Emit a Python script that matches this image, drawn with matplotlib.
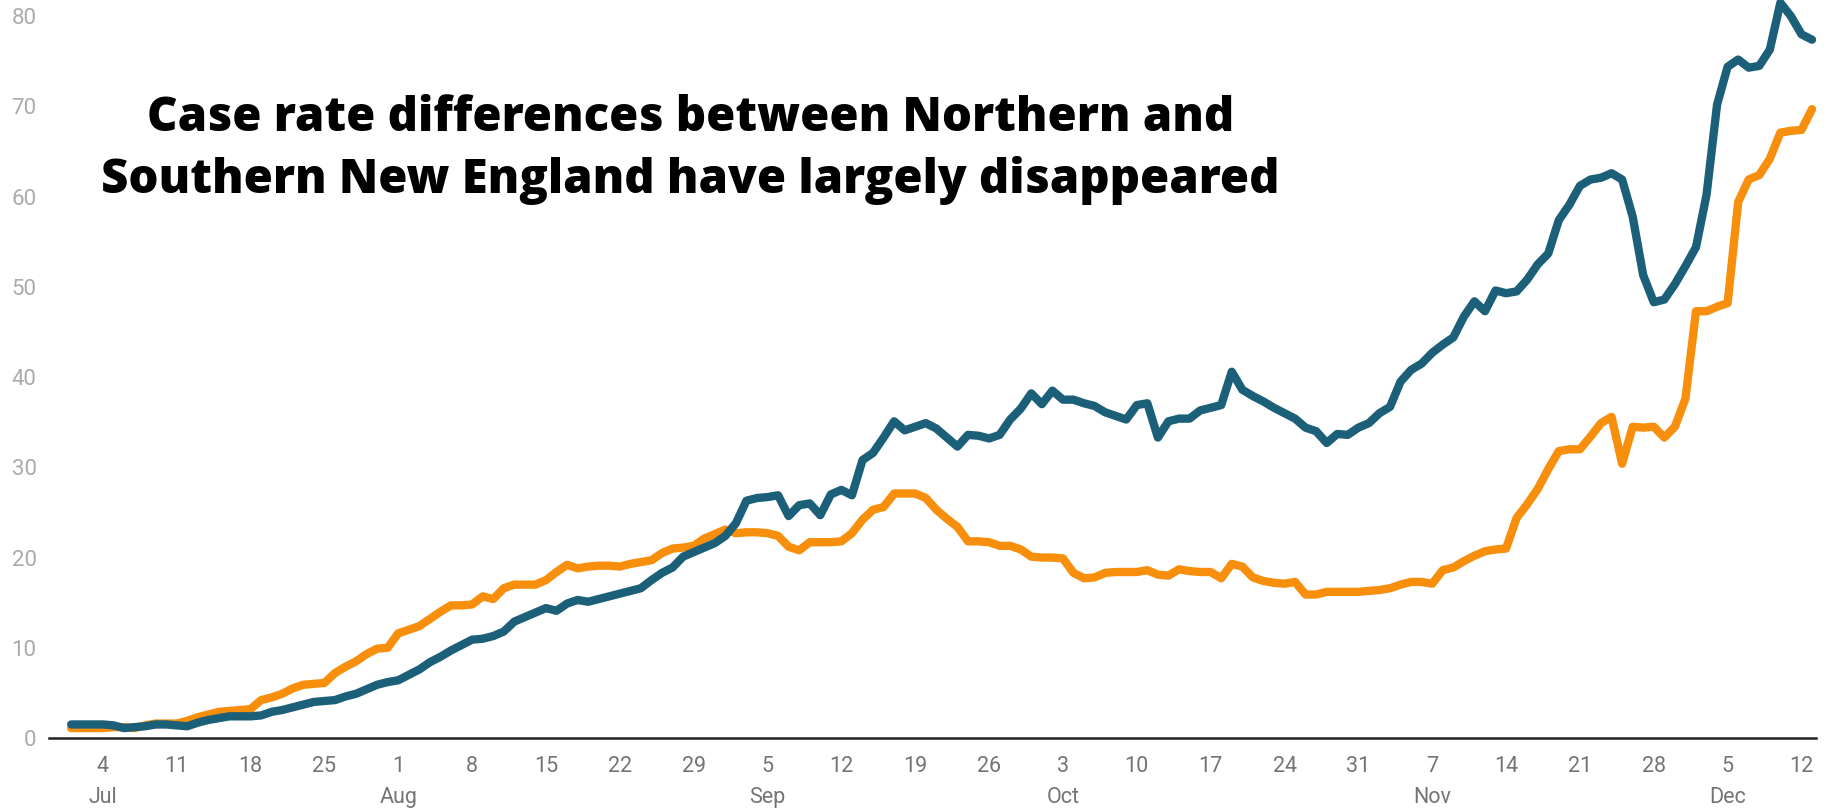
import numpy as np
import pandas as pd
import matplotlib
matplotlib.use('Agg')
import matplotlib.pyplot as plt
import matplotlib.dates as mdates

# daily case rates, Jul 1 .. Dec 13
teal_rate = [
    1.5, 1.5, 1.5, 1.5, 1.4, 1.1, 1.2, 1.3, 1.5, 1.5, 1.4, 1.3, 1.7, 2.0, 2.2, 2.4,
    2.4, 2.4, 2.5, 2.9, 3.1, 3.4, 3.7, 4.0, 4.1, 4.2, 4.6, 4.9, 5.4, 5.9, 6.2,   # Jul
    6.4, 7.0, 7.6, 8.4, 9.0, 9.7, 10.3, 10.9, 11.0, 11.3, 11.8, 12.9, 13.4, 13.9, 14.4, 14.1,
    14.9, 15.3, 15.1, 15.4, 15.7, 16.0, 16.3, 16.6, 17.5, 18.3, 18.9, 20.1, 20.6, 21.1, 21.6,  # Aug
    22.4, 23.8, 26.3, 26.6, 26.7, 26.9, 24.6, 25.8, 26.0, 24.7, 27.0, 27.5, 26.9, 30.8, 31.6,
    33.3, 35.1, 34.1, 34.5, 34.9, 34.3, 33.3, 32.3, 33.6, 33.5, 33.2, 33.6, 35.3, 36.5, 38.2,  # Sep
    37.0, 38.5, 37.5, 37.5, 37.1, 36.8, 36.1, 35.7, 35.3, 36.9, 37.1, 33.3, 35.1, 35.4, 35.4, 36.3,
    36.6, 36.9, 40.6, 38.6, 37.9, 37.3, 36.6, 36.0, 35.4, 34.4, 34.0, 32.7, 33.7, 33.6, 34.4,  # Oct
    34.9, 36.0, 36.7, 39.5, 40.8, 41.5, 42.7, 43.6, 44.4, 46.7, 48.4, 47.3, 49.6, 49.3, 49.5,
    50.8, 52.5, 53.7, 57.4, 59.1, 61.2, 61.9, 62.1, 62.6, 61.9, 57.8, 51.3, 48.3, 48.6, 50.3,  # Nov
    52.3, 54.4, 60.2, 70.2, 74.4, 75.2, 74.3, 74.5, 76.3, 81.5, 80.0, 78.0, 77.4,  # Dec
]
orange_rate = [
    1.1, 1.1, 1.1, 1.1, 1.2, 1.2, 1.1, 1.4, 1.6, 1.6, 1.6, 1.9, 2.3, 2.6, 2.9, 3.0,
    3.1, 3.2, 4.2, 4.5, 4.9, 5.5, 5.9, 6.0, 6.1, 7.2, 7.9, 8.5, 9.3, 9.9, 10.0,  # Jul
    11.6, 12.0, 12.4, 13.2, 14.0, 14.7, 14.7, 14.8, 15.7, 15.4, 16.6, 17.0, 17.0, 17.0, 17.5, 18.4,
    19.2, 18.8, 19.0, 19.1, 19.1, 19.0, 19.3, 19.5, 19.7, 20.5, 21.0, 21.1, 21.3, 22.1, 22.6,  # Aug
    23.1, 22.7, 22.8, 22.8, 22.7, 22.4, 21.2, 20.8, 21.7, 21.7, 21.7, 21.8, 22.7, 24.2, 25.3,
    25.6, 27.1, 27.1, 27.1, 26.6, 25.3, 24.3, 23.4, 21.8, 21.8, 21.7, 21.3, 21.3, 20.9, 20.1,  # Sep
    20.0, 20.0, 19.9, 18.3, 17.7, 17.8, 18.3, 18.4, 18.4, 18.4, 18.6, 18.1, 18.0, 18.7, 18.5, 18.4,
    18.4, 17.7, 19.3, 19.0, 17.8, 17.4, 17.2, 17.1, 17.3, 15.9, 15.9, 16.2, 16.2, 16.2, 16.2,  # Oct
    16.3, 16.4, 16.6, 17.0, 17.3, 17.3, 17.1, 18.6, 18.9, 19.6, 20.2, 20.7, 20.9, 21.0, 24.4,
    25.9, 27.6, 29.8, 31.8, 32.0, 32.0, 33.4, 34.9, 35.6, 30.4, 34.5, 34.4, 34.5, 33.3, 34.5,  # Nov
    37.6, 47.3, 47.3, 47.8, 48.2, 59.4, 61.9, 62.4, 64.2, 67.1, 67.3, 67.4, 69.7,  # Dec
]
dates = pd.date_range('2020-07-01', periods=len(teal_rate), freq='D')

yticks = [0, 10, 20, 30, 40, 50, 60, 70, 80]
xticks = pd.date_range('2020-07-04', '2020-12-12', freq='7D')

title = 'Case rate differences between Northern and\nSouthern New England have largely disappeared'

plt.rcParams['font.family'] = ['Roboto', 'DejaVu Sans']

fig = plt.figure(figsize=(18.37, 8.10), dpi=100)
ax = fig.add_axes([0.0267, 0.0889, 0.962, 0.9111])

ax.plot(dates, orange_rate, color='#f78e0c', lw=6, solid_joinstyle='round', solid_capstyle='round')
ax.plot(dates, teal_rate, color='#1b5f79', lw=6, solid_joinstyle='round', solid_capstyle='round')

x0 = mdates.date2num(dates[0])
ax.set_xlim(x0 - 2.1, x0 + 165.4)
ax.set_ylim(0, 81.8)

# tick labels: day number, month name under first tick of a month
labels = []
seen = set()
for d in xticks:
    m = d.strftime('%b')
    if m not in seen:
        seen.add(m)
        labels.append(f'{d.day}\n{m}')
    else:
        labels.append(f'{d.day}')
ax.set_xticks(xticks)
ax.set_xticklabels(labels, fontsize=15.5, color='#747474', linespacing=1.6)
ax.set_yticks(yticks)
ax.set_yticklabels([str(v) for v in yticks], fontsize=16, color='#ababab')
ax.tick_params(axis='both', length=0)
ax.tick_params(axis='x', pad=13)
ax.tick_params(axis='y', pad=9)

for s in ['top', 'right', 'left']:
    ax.spines[s].set_visible(False)
ax.spines['bottom'].set_color('#222222')
ax.spines['bottom'].set_linewidth(1.8)

fig.text(0.376, 0.815, title, ha='center', va='center', fontsize=34,
         fontweight='heavy', family=['Open Sans', 'DejaVu Sans'], linespacing=1.36)

plt.savefig('out.png', dpi=100)
